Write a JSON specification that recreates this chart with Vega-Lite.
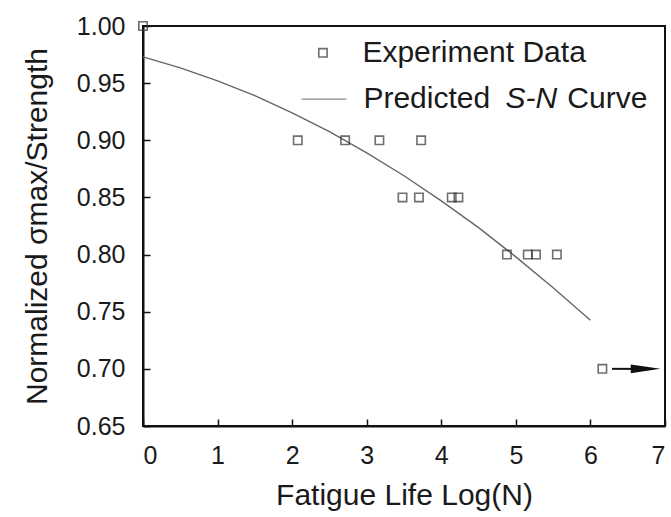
{
  "$schema": "https://vega.github.io/schema/vega-lite/v6.json",
  "width": 522,
  "height": 400,
  "autosize": "none",
  "padding": {"left": 143, "top": 26, "right": 6, "bottom": 91},
  "background": "white",
  "config": {
    "font": "Liberation Sans",
    "view": {"stroke": "#111", "strokeWidth": 2},
    "axis": {
      "grid": false,
      "domainColor": "#111",
      "domainWidth": 2,
      "tickColor": "#111",
      "tickWidth": 1.5,
      "tickSize": -7,
      "labelFont": "Liberation Sans",
      "labelFontSize": 25,
      "labelColor": "#1a1a1a",
      "titleFont": "Liberation Sans",
      "titleFontSize": 30,
      "titleFontWeight": "normal",
      "titleColor": "#1a1a1a"
    }
  },
  "datasets": {
    "exp": [
      {"logN": 0.0, "s": 1.0},
      {"logN": 2.075, "s": 0.9},
      {"logN": 2.71, "s": 0.9},
      {"logN": 3.17, "s": 0.9},
      {"logN": 3.73, "s": 0.9},
      {"logN": 3.48, "s": 0.85},
      {"logN": 3.7, "s": 0.85},
      {"logN": 4.14, "s": 0.85},
      {"logN": 4.23, "s": 0.85},
      {"logN": 4.88, "s": 0.8},
      {"logN": 5.16, "s": 0.8},
      {"logN": 5.27, "s": 0.8},
      {"logN": 5.55, "s": 0.8},
      {"logN": 6.16, "s": 0.7}
    ],
    "curve": [
      {"logN": 0.0, "s": 0.973},
      {"logN": 0.5, "s": 0.9634},
      {"logN": 1.0, "s": 0.952},
      {"logN": 1.5, "s": 0.939},
      {"logN": 2.0, "s": 0.924},
      {"logN": 2.5, "s": 0.9075},
      {"logN": 3.0, "s": 0.889},
      {"logN": 3.5, "s": 0.869},
      {"logN": 4.0, "s": 0.847},
      {"logN": 4.5, "s": 0.8236},
      {"logN": 5.0, "s": 0.798},
      {"logN": 5.5, "s": 0.771},
      {"logN": 6.0, "s": 0.7425}
    ],
    "arrow": [{"x1": 6.29, "x2": 6.64, "s": 0.7, "head": 6.74}],
    "legendSym": [{"x": 2.413, "y": 0.9765}],
    "legendLine": [{"x": 2.125, "x2": 2.728, "y": 0.936}],
    "legendText": [
      {"x": 2.942, "y": 0.9765, "t": "Experiment Data"},
      {"x": 2.956, "y": 0.936, "t": "Predicted"},
      {"x": 5.69, "y": 0.936, "t": "Curve"}
    ],
    "legendItalic": [
      {"x": 4.86, "y": 0.936, "t": "S-N"}
    ]
  },
  "layer": [
    {
      "data": {"name": "curve"},
      "mark": {"type": "line", "color": "#666", "strokeWidth": 1.4},
      "encoding": {
        "x": {
          "field": "logN", "type": "quantitative",
          "scale": {"domain": [0, 7], "nice": false, "zero": false},
          "axis": {"values": [0, 1, 2, 3, 4, 5, 6, 7], "format": "d", "title": "Fatigue Life Log(N)", "labelPadding": 24, "titlePadding": 12}
        },
        "y": {
          "field": "s", "type": "quantitative",
          "scale": {"domain": [0.65, 1.0], "nice": false, "zero": false},
          "axis": {"values": [0.65, 0.7, 0.75, 0.8, 0.85, 0.9, 0.95, 1.0], "format": ".2f", "title": "Normalized σmax/Strength", "labelPadding": 25, "titlePadding": 24}
        }
      }
    },
    {
      "data": {"name": "exp"},
      "mark": {"type": "point", "shape": "square", "filled": false, "size": 70, "stroke": "#333", "strokeWidth": 1.6, "clip": false},
      "encoding": {
        "x": {"field": "logN", "type": "quantitative"},
        "y": {"field": "s", "type": "quantitative"}
      }
    },
    {
      "data": {"name": "arrow"},
      "mark": {"type": "rule", "color": "#111", "strokeWidth": 2},
      "encoding": {
        "x": {"field": "x1", "type": "quantitative"},
        "x2": {"field": "x2"},
        "y": {"field": "s", "type": "quantitative"}
      }
    },
    {
      "data": {"name": "arrow"},
      "mark": {"type": "point", "shape": "M-1,-0.3L1,0L-1,0.3Z", "filled": true, "color": "#111", "size": 880, "opacity": 1},
      "encoding": {
        "x": {"field": "head", "type": "quantitative"},
        "y": {"field": "s", "type": "quantitative"}
      }
    },
    {
      "data": {"name": "legendSym"},
      "mark": {"type": "point", "shape": "square", "filled": false, "size": 70, "stroke": "#333", "strokeWidth": 1.6},
      "encoding": {
        "x": {"field": "x", "type": "quantitative"},
        "y": {"field": "y", "type": "quantitative"}
      }
    },
    {
      "data": {"name": "legendLine"},
      "mark": {"type": "rule", "color": "#888", "strokeWidth": 1.4},
      "encoding": {
        "x": {"field": "x", "type": "quantitative"},
        "x2": {"field": "x2"},
        "y": {"field": "y", "type": "quantitative"}
      }
    },
    {
      "data": {"name": "legendText"},
      "mark": {"type": "text", "align": "left", "baseline": "middle", "fontSize": 30, "color": "#1a1a1a", "font": "Liberation Sans"},
      "encoding": {
        "x": {"field": "x", "type": "quantitative"},
        "y": {"field": "y", "type": "quantitative"},
        "text": {"field": "t"}
      }
    },
    {
      "data": {"name": "legendItalic"},
      "mark": {"type": "text", "align": "left", "baseline": "middle", "fontSize": 30, "fontStyle": "italic", "color": "#1a1a1a", "font": "Liberation Sans"},
      "encoding": {
        "x": {"field": "x", "type": "quantitative"},
        "y": {"field": "y", "type": "quantitative"},
        "text": {"field": "t"}
      }
    }
  ]
}
